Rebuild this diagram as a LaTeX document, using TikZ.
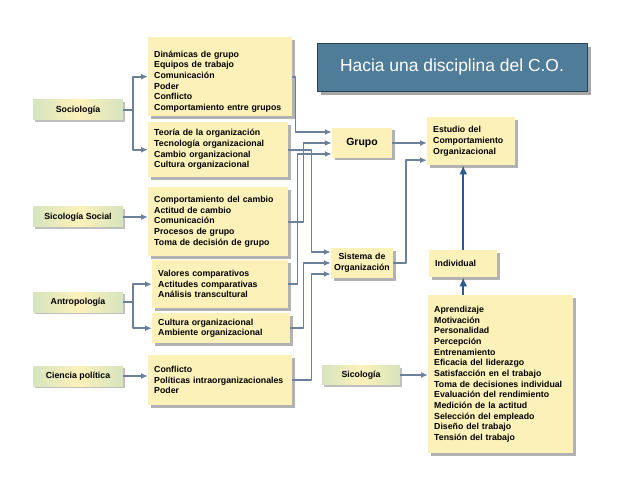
\documentclass[tikz,border=0pt]{standalone}
\usepackage{fontspec}
\setmainfont{Liberation Sans}
\usetikzlibrary{arrows.meta,shadows}
\definecolor{boxyellow}{RGB}{253,241,186}
\definecolor{boxgreen}{RGB}{214,228,190}
\definecolor{linegray}{RGB}{108,129,153}
\definecolor{arrowblue}{RGB}{44,90,140}
\definecolor{titleblue}{RGB}{79,124,152}
\definecolor{titleedge}{RGB}{40,66,84}
\begin{document}
\begin{tikzpicture}[x=1bp,y=-1bp,line join=round,
        font=\fontsize{8.8}{10.7}\selectfont\bfseries,
        ybox/.style={fill=boxyellow,inner xsep=6bp,inner ysep=2bp,align=left,anchor=north west,
            drop shadow={shadow xshift=2.5bp,shadow yshift=-2.5bp,opacity=.3,fill=black}},
        lbox/.style={left color=boxgreen,right color=boxgreen,middle color=boxyellow,
            minimum width=90bp,minimum height=20bp,inner sep=0pt,
            drop shadow={shadow xshift=2bp,shadow yshift=-2bp,opacity=.25,fill=black}},
        conn/.style={draw=linegray,line width=1.8bp,-{Latex[length=7bp,width=6bp]}},
        upline/.style={draw=arrowblue,line width=2.3bp,-{Latex[length=9bp,width=8bp]}}]
    \useasboundingbox (0,0) rectangle (638,479);

    \node[fill=titleblue,draw=titleedge,minimum width=270bp,minimum height=48bp,text=white,
        font=\fontsize{17.5}{20}\selectfont,
        drop shadow={shadow xshift=4bp,shadow yshift=-4bp,opacity=.35,fill=black}] (title) at (452,67) {Hacia una disciplina del C.O.};

    \node[lbox] (soc) at (78,110) {Sociología};
    \node[lbox] (sso) at (78,217) {Sicología Social};
    \node[lbox] (ant) at (78,302) {Antropología};
    \node[lbox] (cpo) at (78,376) {Ciencia política};

    \node[ybox,text width=132bp,minimum height=79bp] (dina) at (148,37)
        {\rule{0pt}{16bp}Dinámicas de grupo\\Equipos de trabajo\\Comunicación\\Poder\\Conflicto\\Comportamiento entre grupos};
    \node[ybox,text width=128bp,minimum height=55bp] (teo) at (148,122)
        {Teoría de la organización\\Tecnología organizacional\\Cambio organizacional\\Cultura organizacional};
    \node[ybox,text width=128bp,minimum height=69bp] (cam) at (148,187)
        {Comportamiento del cambio\\Actitud de cambio\\Comunicación\\Procesos de grupo\\Toma de decisión de grupo};
    \node[ybox,text width=124bp,minimum height=48bp] (val) at (152,260)
        {Valores comparativos\\Actitudes comparativas\\Análisis transcultural};
    \node[ybox,text width=126bp,minimum height=30bp] (cul) at (152,313)
        {Cultura organizacional\\Ambiente organizacional};
    \node[ybox,text width=132bp,minimum height=50bp] (con) at (148,355)
        {Conflicto\\Políticas intraorganizacionales\\Poder};

    \node[ybox,anchor=center,align=center,minimum width=60bp,minimum height=30bp,
        font=\fontsize{10.5}{12}\selectfont\bfseries] (grp) at (362,143) {Grupo};
    \node[ybox,anchor=center,align=center,text width=58bp,inner xsep=2bp,minimum height=30bp] (sis) at (362,263)
        {Sistema de\\Organización};
    \node[lbox,minimum width=78bp,minimum height=19bp] (sic) at (361,375) {Sicología};

    \node[ybox,text width=76bp,minimum height=48bp] (est) at (427,117)
        {Estudio del\\Comportamiento\\Organizacional};
    \node[ybox,text width=56bp,minimum height=27bp] (ind) at (429,250) {Individual};
    \node[ybox,text width=133bp,minimum height=158bp] (apr) at (428,295)
        {Aprendizaje\\Motivación\\Personalidad\\Percepción\\Entrenamiento\\Eficacia del liderazgo\\Satisfacción en el trabajo\\Toma de decisiones individual\\Evaluación del rendimiento\\Medición de la actitud\\Selección del empleado\\Diseño del trabajo\\Tensión del trabajo};

    \draw[conn] (soc.east) -- ++(10,0) |- (dina.west);
    \draw[conn] (soc.east) -- ++(10,0) |- (teo.west);
    \draw[conn] (sso.east) -- (sso.east -| cam.west);
    \draw[conn] (ant.east) -- ++(10,0) |- (val.west);
    \draw[conn] (ant.east) -- ++(10,0) |- (cul.west);
    \draw[conn] (cpo.east) -- (cpo.east -| con.west);

    \draw[conn] (dina.east) -- ++(3,0) |- ([yshift=11bp]grp.west);
    \draw[conn] (cam.east) -- ++(15,0) |- (grp.west);
    \draw[conn] (val.east) -- ++(9,0) |- ([yshift=-11bp]grp.west);
    \draw[conn] (teo.east) -- ++(23,0) |- ([yshift=11bp]sis.west);
    \draw[conn] (cul.east) -- ++(13,0) |- (sis.west);
    \draw[conn] (con.east) -- ++(19,0) |- ([yshift=-11bp]sis.west);

    \draw[conn] (grp.east) -- (grp.east -| est.west);
    \draw[conn] (sis.east) -- ++(13,0) |- ([yshift=-19bp]est.west);
    \draw[conn] (sic.east) -- (sic.east -| apr.west);
    \draw[upline] (ind.north) -- (ind.north |- est.south);
    \draw[upline] (ind.south |- apr.north) -- (ind.south);
\end{tikzpicture}
\end{document}
